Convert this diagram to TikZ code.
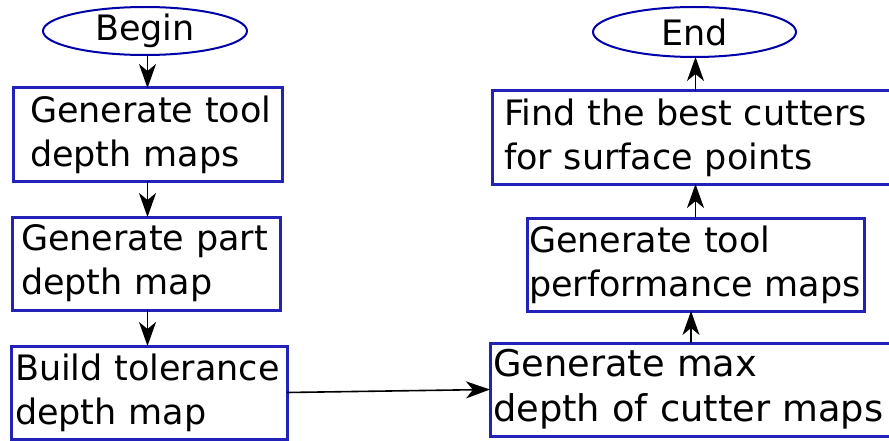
\documentclass[tikz,border=0pt]{standalone}
\usepackage{fontspec}
\setmainfont{DejaVu Sans}
\usetikzlibrary{shapes.geometric,arrows.meta}
\definecolor{boxblue}{RGB}{34,34,184}
\definecolor{ellblue}{RGB}{0,0,168}
\tikzset{
  flowbox/.style={draw=boxblue, line width=3pt, anchor=north west, align=left,
    inner ysep=0pt, outer sep=0pt, minimum height=93pt,
    font=\fontsize{35}{44}\selectfont},
  term/.style={draw=ellblue, line width=2pt, ellipse, inner sep=0pt, outer sep=0pt,
    font=\fontsize{35}{44}\selectfont},
  arr/.style={-{Stealth[length=24pt,width=17pt,inset=7pt]}, line width=1.6pt}
}
\begin{document}
\begin{tikzpicture}[x=1pt,y=1pt]
\clip (0,0) rectangle (889,-441);
\fill[white] (0,0) rectangle (889,-441);
% left column
\node[term, minimum width=204pt, minimum height=48pt] (begin) at (145,-31) {Begin};
\node[flowbox, minimum width=269pt, text width=235pt, inner xsep=17pt] (b1) at (13,-88)
  {\mbox{Generate tool}\\\mbox{depth maps}};
\node[flowbox, minimum width=268pt, text width=250pt, inner xsep=9pt] (b2) at (12,-217)
  {\mbox{Generate part}\\\mbox{depth map}};
\node[flowbox, minimum width=276pt, text width=268pt, inner xsep=4pt] (b3) at (11,-346)
  {\mbox{Build tolerance}\\\mbox{depth map}};
% right column
\node[term, minimum width=203pt, minimum height=50pt] (end) at (694.5,-32) {End};
\node[flowbox, minimum width=400pt, text width=376pt, inner xsep=12pt] (find) at (492,-91)
  {\mbox{Find the best cutters}\\\mbox{for surface points}};
\node[flowbox, minimum width=337pt, text width=333pt, inner xsep=2pt] (perf) at (527,-218)
  {\mbox{Generate tool}\\\mbox{performance maps}};
\node[flowbox, minimum width=402pt, text width=396pt, inner xsep=3pt,
  font=\fontsize{36.8}{45}\selectfont] (mx) at (490,-343)
  {\mbox{Generate max}\\\mbox{depth of cutter maps}};
% connectors
\draw[arr] (begin.south -| b1.south) -- (b1.north);
\draw[arr] (b1.south) -- (b1.south |- b2.north);
\draw[arr] (b1.south |- b2.south) -- (b1.south |- b3.north);
\draw[arr] (b3.east) -- (mx.west);
\draw[arr] (mx.north) -- (mx.north |- perf.south);
\draw[arr] (perf.north) -- (perf.north |- find.south);
\draw[arr] (perf.north |- find.north) -- (perf.north |- end.south);
\end{tikzpicture}
\end{document}
